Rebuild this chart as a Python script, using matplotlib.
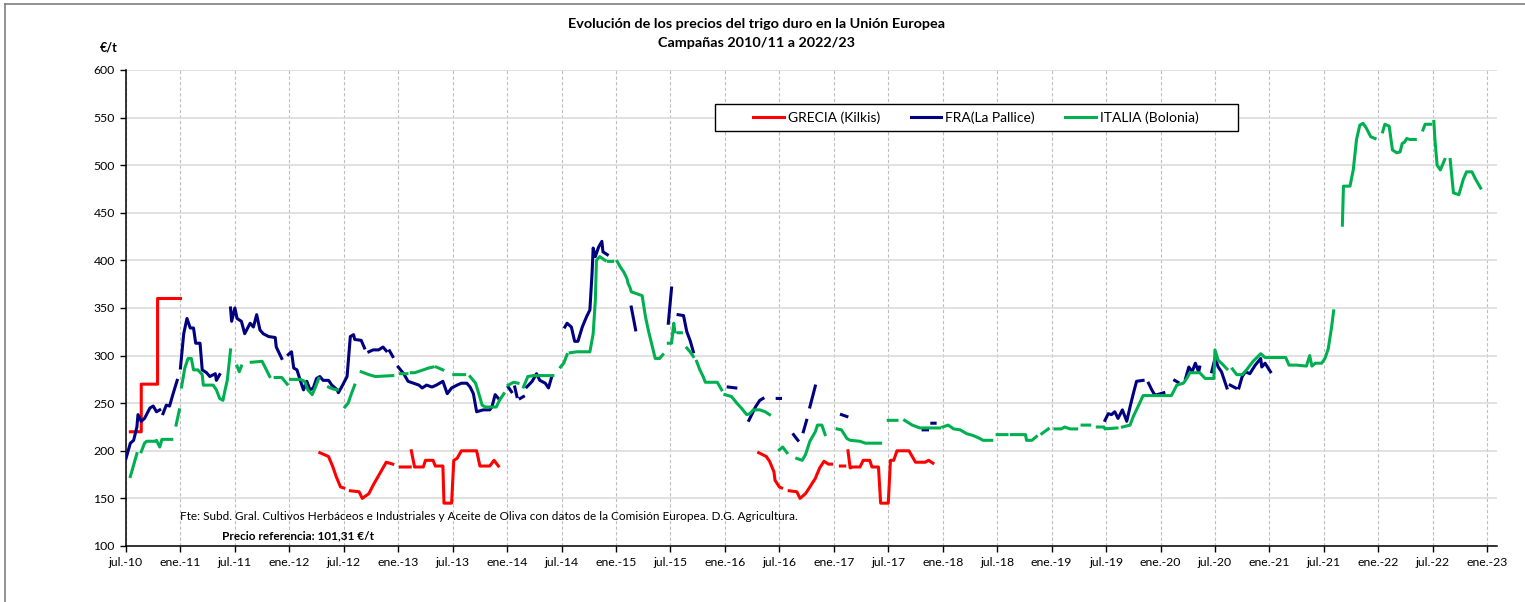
import numpy as np
import matplotlib
matplotlib.use("Agg")
import matplotlib.pyplot as plt
from matplotlib.lines import Line2D
from matplotlib.patches import Rectangle

plt.rcParams['font.family'] = ['Lato', 'DejaVu Sans']

# fechas en años decimales (jul.-10 = 2010.5), None = sin dato
grecia_t = [2010.54, 2010.64, 2010.64, 2010.79, 2010.79, 2010.88, None, 2010.90, 2011.00, None,
            2012.28, 2012.36, 2012.40, 2012.43, 2012.47, 2012.50, None,
            2012.56, 2012.64, 2012.67, 2012.73, 2012.77, 2012.83, 2012.89, 2012.95, None,
            2013.02, 2013.11, None,
            2013.12, 2013.15, 2013.23, 2013.25, 2013.32, 2013.34, 2013.41, 2013.42, 2013.49,
            2013.51, 2013.54, 2013.58, 2013.72, 2013.75, 2013.84, 2013.88, 2013.92, None,
            2016.31, 2016.38, 2016.41, 2016.45, 2016.46, 2016.50, 2016.52, None,
            2016.59, 2016.66, 2016.69, 2016.74, 2016.78, 2016.83, 2016.87, 2016.91, 2016.95, 2016.98, None,
            2017.06, 2017.10, None,
            2017.13, 2017.15, 2017.17, 2017.24, 2017.27, 2017.33, 2017.35, 2017.41, 2017.43, 2017.50,
            2017.52, 2017.55, 2017.58, 2017.69, 2017.75, 2017.84, 2017.87, 2017.91]
grecia_v = [220, 220, 270, 270, 360, 360, None, 360, 360, None,
            198, 194, 183, 173, 162, 161, None,
            158, 157, 150, 155, 164, 176, 188, 186, None,
            183, 183, None,
            200, 183, 183, 190, 190, 184, 184, 145, 145,
            190, 192, 200, 200, 184, 184, 190, 184, None,
            198, 194, 189, 178, 169, 162, 161, None,
            158, 157, 150, 155, 162, 171, 182, 189, 186, 186, None,
            184, 184, None,
            200, 182, 183, 183, 190, 190, 183, 183, 145, 145,
            190, 190, 200, 200, 188, 188, 190, 187]

fra_t = [2010.50, 2010.54, 2010.57, 2010.60, 2010.61, 2010.64, 2010.67, 2010.72, 2010.75, 2010.78, 2010.81, None,
         2010.84, 2010.87, 2010.90, 2010.93, 2010.97, None,
         2011.00, 2011.03, 2011.06, 2011.09, 2011.12, 2011.14, 2011.18, 2011.20, 2011.24, 2011.27, 2011.32, 2011.33, 2011.36, None,
         2011.46, 2011.47, 2011.50, 2011.52, 2011.56, 2011.59, 2011.64, 2011.67, 2011.70, 2011.73, 2011.76, 2011.81, 2011.87, 2011.88, 2011.93, None,
         2011.99, 2012.02, 2012.04, 2012.07, 2012.10, 2012.13, 2012.16, 2012.19, 2012.22, 2012.25, 2012.28, 2012.31,
         2012.36, 2012.39, 2012.44, 2012.45, 2012.48, 2012.53, 2012.56, 2012.59, 2012.60, 2012.66, 2012.69, None,
         2012.73, 2012.77, 2012.82, 2012.86, 2012.89, None,
         2012.92, 2012.95, None,
         2013.00, 2013.05, 2013.09, 2013.14, 2013.19, 2013.22, 2013.26, 2013.31, 2013.35, 2013.41, 2013.45, 2013.49,
         2013.54, 2013.58, 2013.63, 2013.66, 2013.69, 2013.72, 2013.78, 2013.84, 2013.86, 2013.89, 2013.92, None,
         2014.01, 2014.04, None, 2014.07, 2014.09, None, 2014.12, 2014.15, None,
         2014.18, 2014.23, 2014.27, 2014.30, 2014.35, 2014.38, 2014.41, None,
         2014.53, 2014.55, 2014.59, 2014.62, 2014.65, 2014.69, 2014.73, 2014.76, 2014.78, 2014.79, 2014.81, 2014.84, 2014.87, 2014.88, 2014.92, None,
         2015.14, 2015.18, None,
         2015.48, 2015.51, None,
         2015.57, 2015.62, 2015.65, 2015.68, 2015.71, None,
         2016.03, 2016.10, None,
         2016.22, 2016.28, 2016.32, 2016.35, None,
         2016.48, 2016.51, None,
         2016.63, 2016.67, None,
         2016.72, 2016.75, None,
         2016.78, 2016.83, None,
         2017.07, 2017.12, None,
         2017.82, 2017.86, None,
         2017.90, 2017.93, None,
         2019.49, 2019.52, 2019.55, 2019.58, 2019.61, 2019.65, 2019.69, 2019.72, 2019.75, 2019.78, 2019.84, None,
         2019.89, 2019.92, 2019.94, None,
         2019.97, 2020.03, None,
         2020.13, 2020.16, None,
         2020.23, 2020.26, 2020.29, 2020.32, 2020.35, 2020.36, None,
         2020.47, 2020.50, 2020.53, 2020.56, 2020.61, None,
         2020.64, 2020.69, None,
         2020.72, 2020.75, 2020.78, 2020.82, 2020.87, 2020.92, 2020.93, 2020.96, 2021.01]
fra_v = [192, 208, 211, 225, 238, 231, 234, 245, 247, 241, 243, None,
         239, 248, 247, 259, 274, None,
         287, 323, 339, 329, 329, 313, 313, 285, 282, 278, 281, 274, 280, None,
         350, 336, 350, 339, 336, 323, 334, 330, 343, 327, 323, 320, 319, 309, 297, None,
         301, 304, 287, 285, 274, 264, 273, 264, 266, 276, 278, 274,
         274, 269, 264, 261, 267, 278, 320, 322, 317, 316, 308, None,
         304, 306, 306, 309, 305, None,
         305, 299, None,
         288, 281, 273, 271, 269, 266, 269, 267, 269, 273, 260, 266,
         269, 271, 271, 267, 260, 241, 243, 243, 246, 259, 255, None,
         267, 262, None, 267, 257, None, 255, 257, None,
         267, 273, 281, 274, 271, 266, 278, None,
         330, 334, 330, 315, 315, 330, 341, 348, 387, 413, 404, 414, 420, 409, 406, None,
         351, 327, None,
         334, 371, None,
         343, 342, 325, 316, 304, None,
         267, 266, None,
         232, 246, 253, 255, None,
         255, 255, None,
         217, 211, None,
         220, 232, None,
         246, 268, None,
         238, 236, None,
         222, 222, None,
         229, 229, None,
         232, 239, 238, 241, 234, 243, 231, 246, 260, 273, 274, None,
         271, 264, 260, None,
         259, 261, None,
         274, 272, None,
         276, 288, 283, 292, 283, 288, None,
         283, 297, 288, 283, 266, None,
         269, 266, None,
         266, 278, 283, 281, 290, 297, 288, 292, 283]

italia_t = [2010.54, 2010.57, 2010.60, None,
            2010.64, 2010.67, 2010.69, 2010.77, 2010.78, 2010.81, 2010.83, 2010.92, None,
            2010.96, 2010.99, None,
            2011.01, 2011.04, 2011.07, 2011.10, 2011.12, 2011.16, 2011.20, 2011.21, 2011.30, 2011.33, 2011.36, 2011.39, 2011.41, 2011.43, 2011.46, None,
            2011.52, 2011.54, 2011.56, None,
            2011.65, 2011.75, 2011.79, 2011.82, None,
            2011.87, 2011.93, 2011.98, None,
            2012.01, 2012.10, 2012.14, 2012.17, 2012.21, 2012.24, 2012.27, None,
            2012.36, 2012.40, 2012.44, None,
            2012.51, 2012.54, 2012.57, 2012.60, None,
            2012.66, 2012.73, 2012.79, 2012.95, None,
            2013.02, 2013.08, None,
            2013.12, 2013.15, 2013.23, 2013.28, 2013.32, None,
            2013.35, 2013.41, None,
            2013.51, 2013.61, None,
            2013.66, 2013.71, 2013.74, 2013.77, 2013.80, 2013.90, 2013.93, 2013.97, None,
            2014.01, 2014.06, 2014.10, None,
            2014.15, 2014.19, 2014.24, 2014.42, None,
            2014.49, 2014.52, 2014.55, None,
            2014.58, 2014.64, 2014.76, 2014.79, 2014.81, 2014.82, 2014.85, 2014.90, None,
            2014.93, 2014.97, None,
            2015.01, 2015.04, 2015.07, 2015.10, 2015.11, 2015.13, 2015.14, 2015.19, 2015.24, 2015.27, 2015.30, 2015.33, 2015.36, 2015.40, 2015.43, None,
            2015.48, 2015.51, 2015.53, 2015.54, None,
            2015.57, 2015.60, None,
            2015.65, 2015.68, 2015.71, None,
            2015.74, 2015.77, 2015.80, 2015.82, 2015.93, 2015.97, None,
            2016.00, 2016.06, 2016.11, 2016.15, 2016.20, 2016.23, 2016.26, 2016.32, 2016.37, 2016.41, None,
            2016.50, 2016.53, 2016.57, None,
            2016.66, 2016.71, 2016.74, 2016.78, 2016.83, 2016.85, 2016.89, 2016.92, None,
            2017.03, 2017.07, 2017.12, 2017.15, 2017.24, 2017.29, 2017.43, None,
            2017.50, 2017.58, None,
            2017.65, 2017.72, 2017.79, 2017.97, None,
            2018.00, 2018.05, 2018.10, 2018.16, 2018.22, 2018.28, 2018.34, 2018.37, 2018.45, None,
            2018.50, 2018.59, None,
            2018.63, 2018.76, 2018.77, 2018.82, 2018.86, None,
            2018.91, 2018.97, None,
            2019.03, 2019.09, 2019.12, 2019.17, 2019.23, None,
            2019.28, 2019.35, None,
            2019.42, 2019.48, 2019.49, 2019.60, None,
            2019.65, 2019.72, 2019.75, 2019.80, 2019.84, 2020.10, 2020.15, 2020.21, 2020.24, 2020.27, 2020.36, 2020.41,
            2020.49, 2020.50, 2020.53, 2020.56, 2020.61, None,
            2020.66, 2020.70, 2020.75, 2020.79, 2020.85, 2020.92, 2020.96, 2021.15, 2021.18, 2021.25, 2021.34, 2021.37,
            2021.39, 2021.42, 2021.48, 2021.51, 2021.54, 2021.57, 2021.59, None,
            2021.67, 2021.68, 2021.74, 2021.77, 2021.80, 2021.83, 2021.86, 2021.89, 2021.93, 2021.97, None,
            2022.04, 2022.06, 2022.10, 2022.13, 2022.17, 2022.20, 2022.22, 2022.24, 2022.26, 2022.29, 2022.34, None,
            2022.41, 2022.43, 2022.48, None,
            2022.51, 2022.52, 2022.54, 2022.57, 2022.61, None,
            2022.66, 2022.69, 2022.74, 2022.78, 2022.81, 2022.86, 2022.89, 2022.94]
italia_v = [173, 185, 197, None,
            199, 208, 210, 210, 211, 204, 212, 212, None,
            227, 243, None,
            267, 287, 297, 297, 285, 285, 280, 269, 269, 264, 255, 253, 264, 274, 306, None,
            289, 283, 289, None,
            293, 294, 285, 278, None,
            277, 277, 270, None,
            275, 275, 273, 264, 259, 267, 276, None,
            267, 265, 264, None,
            246, 250, 260, 269, None,
            283, 280, 278, 279, None,
            281, 281, None,
            282, 282, 285, 287, 288, None,
            288, 285, None,
            280, 280, None,
            278, 271, 260, 248, 246, 246, 253, 260, None,
            269, 272, 271, None,
            267, 278, 279, 279, None,
            288, 292, 301, None,
            303, 304, 304, 323, 358, 400, 404, 400, None,
            399, 399, None,
            399, 393, 388, 381, 376, 371, 367, 365, 363, 341, 325, 311, 297, 297, 301, None,
            313, 313, 334, 325, None,
            324, 324, None,
            308, 304, 299, None,
            294, 285, 278, 272, 272, 264, None,
            259, 257, 250, 245, 238, 239, 243, 243, 241, 238, None,
            201, 204, 198, None,
            192, 190, 196, 210, 220, 227, 227, 217, None,
            223, 222, 213, 211, 210, 208, 208, None,
            232, 232, None,
            232, 227, 224, 224, None,
            225, 227, 223, 222, 218, 216, 213, 211, 211, None,
            217, 217, None,
            217, 217, 211, 211, 215, None,
            218, 223, None,
            223, 223, 225, 223, 223, None,
            227, 227, None,
            225, 225, 223, 224, None,
            225, 227, 236, 248, 258, 258, 269, 271, 276, 282, 282, 276,
            276, 306, 295, 292, 286, None,
            286, 280, 280, 285, 294, 302, 298, 298, 290, 290, 289, 300,
            289, 292, 292, 297, 307, 329, 347, None,
            437, 478, 478, 495, 527, 542, 544, 539, 530, 528, None,
            535, 543, 541, 516, 513, 514, 523, 524, 528, 527, 527, None,
            537, 543, 543, None,
            546, 527, 500, 495, 506, None,
            506, 471, 469, 485, 493, 493, 486, 476]

series_names = ['GRECIA (Kilkis)', 'FRA(La Pallice)', 'ITALIA (Bolonia)']
series_colors = ['#FF0000', '#000080', '#00B050']

tick_pos = [2010.5 + 0.5 * i for i in range(26)]
tick_labels = []
for i in range(26):
    yy = 10 + (i + 1) // 2
    tick_labels.append(('jul.-%02d' if i % 2 == 0 else 'ene.-%02d') % yy)

fig = plt.figure(figsize=(15.25, 6.02), dpi=100)
W, H = 1525.0, 602.0
ax = fig.add_axes([126 / W, 1 - 546 / H, 1371 / W, 476 / H])

datos = [(grecia_t, grecia_v), (fra_t, fra_v), (italia_t, italia_v)]
for (t, v), nombre, color in zip(datos, series_names, series_colors):
    t = np.array(t, dtype=float)
    v = np.array(v, dtype=float)
    ax.plot(t, v, color=color, lw=2.2, label=nombre, solid_joinstyle='round', zorder=3)

ax.set_xlim(2010.5, 2023.09)
ax.set_ylim(100, 600)
ax.set_yticks(range(100, 601, 50))
ax.set_xticks(tick_pos)
ax.set_xticklabels(tick_labels)
ax.tick_params(labelsize=8.8, length=4, width=1, color='black', direction='out', pad=4)

ax.yaxis.grid(True, color='#d9d9d9', lw=1.1, ls='-')
ax.xaxis.grid(True, color='#bfbfbf', lw=0.8, ls=(0, (3, 2)))
ax.set_axisbelow(True)
for s in ['top', 'right']:
    ax.spines[s].set_visible(False)
for s in ['left', 'bottom']:
    ax.spines[s].set_linewidth(1.1)

fig.text(757 / W, 1 - 24 / H, 'Evolución de los precios del trigo duro en la Unión Europea',
         ha='center', va='center', fontsize=10.4, fontweight='bold')
fig.text(757 / W, 1 - 43 / H, 'Campañas 2010/11 a 2022/23',
         ha='center', va='center', fontsize=10.4, fontweight='bold')
fig.text(109 / W, 1 - 48 / H, '€/t', ha='center', va='center', fontsize=9, fontweight='bold')

fig.text(180 / W, 1 - 517 / H,
         'Fte: Subd. Gral. Cultivos Herbáceos e Industriales y Aceite de Oliva con datos de la Comisión Europea. D.G. Agricultura.',
         ha='left', va='center', fontsize=8.5)
fig.text(222 / W, 1 - 536 / H, 'Precio referencia: 101,31 €/t', ha='left', va='center',
         fontsize=8.5, fontweight='bold')

# caja de la leyenda
caja = Rectangle((715 / W, 1 - 131 / H), 523 / W, 27 / H, transform=fig.transFigure,
                 facecolor='white', edgecolor='black', lw=1, zorder=5)
fig.add_artist(caja)
handles = [Line2D([], [], color=c, lw=2.2) for c in series_colors]
leg = fig.legend(handles, series_names, loc='center', bbox_to_anchor=(976 / W, 1 - 117.5 / H),
                 ncol=3, frameon=False, fontsize=10, handlelength=2.2, handletextpad=0.3,
                 columnspacing=2.2)
leg.set_zorder(6)

# marco exterior
fig.add_artist(Line2D([5 / W, 5 / W], [0, 1 - 4 / H], transform=fig.transFigure, color='#7f7f7f', lw=1.2))
fig.add_artist(Line2D([5 / W, 1], [1 - 4 / H, 1 - 4 / H], transform=fig.transFigure, color='#7f7f7f', lw=1.2))

fig.savefig('out.png', dpi=100)
